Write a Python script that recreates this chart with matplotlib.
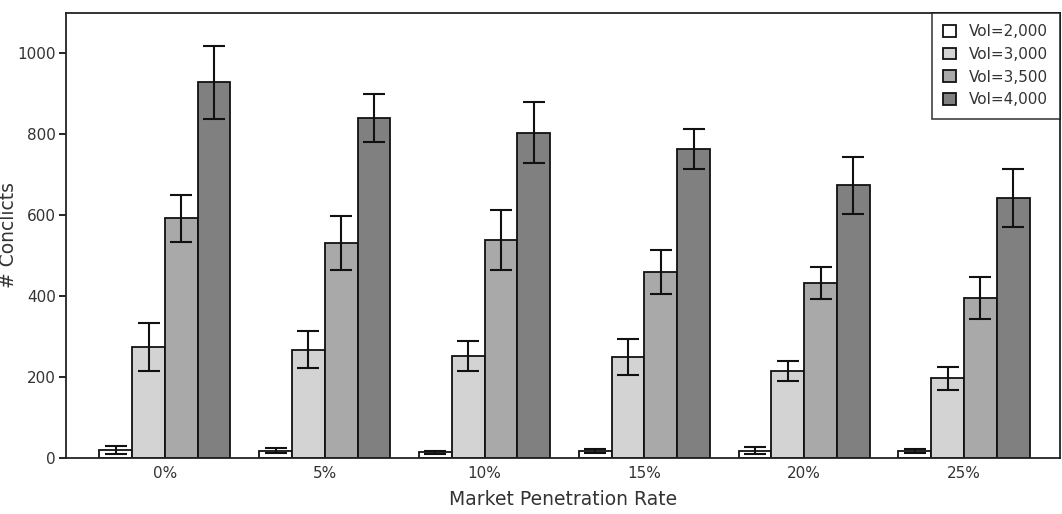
import matplotlib.pyplot as plt
import numpy as np

plt.rcParams['font.family'] = ['DejaVu Sans']

rates = ['0%', '5%', '10%', '15%', '20%', '25%']
series = ['Vol=2,000', 'Vol=3,000', 'Vol=3,500', 'Vol=4,000']

vol2000 = [20, 18, 14, 18, 18, 18]
vol3000 = [274, 268, 252, 250, 215, 197]
vol3500 = [592, 531, 538, 459, 432, 395]
vol4000 = [928, 840, 804, 763, 674, 642]

err2000 = [10, 6, 4, 5, 8, 5]
err3000 = [60, 46, 36, 45, 25, 29]
err3500 = [58, 66, 74, 55, 40, 52]
err4000 = [90, 59, 75, 50, 70, 72]

values = [vol2000, vol3000, vol3500, vol4000]
errors = [err2000, err3000, err3500, err4000]
colors = ['#ffffff', '#d3d3d3', '#a9a9a9', '#808080']

fig = plt.figure(figsize=(10.62, 5.14), dpi=100)
ax = fig.add_axes([0.062, 0.109, 0.936, 0.866])

x = np.arange(len(rates))
w = 0.205
for i in range(4):
    pos = x + (i - 1.5) * w
    ax.bar(pos, values[i], w, color=colors[i], edgecolor='#111111', linewidth=1.3,
           label=series[i], zorder=2)
    ax.errorbar(pos, values[i], yerr=errors[i], fmt='none', ecolor='#111111',
                elinewidth=1.5, capsize=8, capthick=1.5, zorder=3)

ax.set_xlim(-0.62, 5.6)
ax.set_ylim(0, 1100)
ax.set_yticks([0, 200, 400, 600, 800, 1000])
ax.set_xticks(x)
ax.set_xticklabels(rates)
ax.tick_params(axis='x', length=0, pad=6, labelsize=11, labelcolor='#333333')
ax.tick_params(axis='y', length=5, width=1.2, pad=2, labelsize=11, labelcolor='#333333')
for s in ax.spines.values():
    s.set_linewidth(1.3)
    s.set_color('#222222')

ax.set_xlabel('Market Penetration Rate', fontsize=13.5, color='#333333', labelpad=6)
ax.set_ylabel('# Conclicts', fontsize=13.5, color='#333333')
ax.yaxis.set_label_coords(-0.048, 0.5)

leg = ax.legend(loc='upper right', borderaxespad=0, fancybox=False, edgecolor='#111111',
                fontsize=11, handlelength=0.8, handleheight=0.8, labelspacing=0.5,
                borderpad=0.75, handletextpad=0.9)
leg.get_frame().set_linewidth(1.2)
for t in leg.get_texts():
    t.set_color('#333333')

fig.savefig('out.png', dpi=100)
